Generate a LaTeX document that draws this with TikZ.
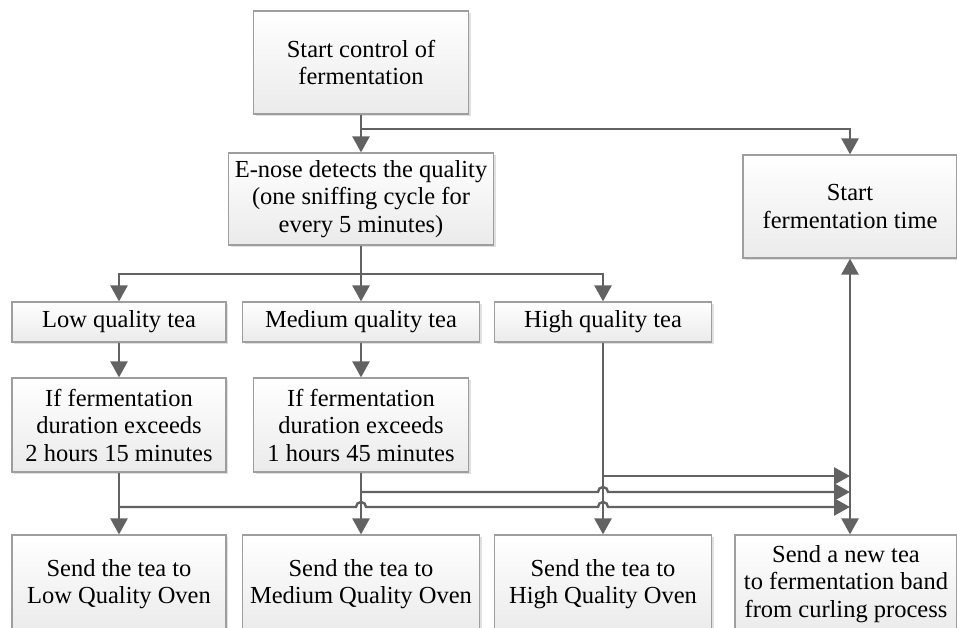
\documentclass[tikz,border=0pt]{standalone}
\usepackage{fontspec}
\setmainfont{Liberation Serif}
\usetikzlibrary{arrows.meta,shadows}
\definecolor{linegray}{RGB}{98,98,98}
\tikzset{
  box/.style={draw=black!38, line width=1.2pt, top color=white, bottom color=black!8,
    align=center, inner sep=2pt, font=\fontsize{24.5}{27.5}\selectfont,
    drop shadow={shadow xshift=2pt, shadow yshift=-2pt, fill=black!20, opacity=0.6}},
  link/.style={line width=2.4pt, draw=linegray},
  arrow/.style={link, -{Triangle[length=16pt,width=17pt]}},
}
\begin{document}
\begin{tikzpicture}[x=1pt,y=1pt]
            \useasboundingbox (0,0) rectangle (957,-628);

            \node[box,minimum width=215pt,minimum height=103pt] (S) at (361,-62.5) {Start control of\\fermentation};
            \node[box,minimum width=265pt,minimum height=92pt] (E) at (361,-199) {E-nose detects the quality\\(one sniffing cycle for\\every 5 minutes)};
            \node[box,minimum width=214pt,minimum height=103pt] (T) at (850,-206.5) {Start\\fermentation time};

            \node[box,minimum width=214pt,minimum height=40pt] (L) at (119,-322) {Low quality tea};
            \node[box,minimum width=237pt,minimum height=40pt] (M) at (361,-322) {Medium quality tea};
            \node[box,minimum width=217pt,minimum height=40pt] (H) at (603,-322) {High quality tea};

            \node[box,minimum width=214pt,minimum height=94pt] (LI) at (119,-425) {If fermentation\\duration exceeds\\2 hours 15 minutes};
            \node[box,minimum width=215pt,minimum height=94pt] (MI) at (361,-425) {If fermentation\\duration exceeds\\1 hours 45 minutes};

            \node[box,minimum width=214pt,minimum height=98pt] (LO) at (119,-584) {Send the tea to\\Low Quality Oven};
            \node[box,minimum width=237pt,minimum height=98pt] (MO) at (361,-584) {Send the tea to\\Medium Quality Oven};
            \node[box,minimum width=217pt,minimum height=98pt] (HO) at (603,-584) {Send the tea to\\High Quality Oven};
            \node[box,minimum width=222pt,minimum height=98pt] (N) at (846,-584) {Send a new tea\\to fermentation band\\from curling process};

            \coordinate (j1) at (361,-129);
            \coordinate (j2) at (361,-274);
            \coordinate (h1) at (603,-476);
            \coordinate (h2) at (361,-492);
            \coordinate (h3) at (119,-507);

            \draw[arrow] (S) to (E);
            \draw[arrow] (j1) -| (T);
            \draw[arrow] (E) to (M);
            \draw[arrow] (j2) -| (L);
            \draw[arrow] (j2) -| (H);
            \draw[arrow] (L) to (LI);
            \draw[arrow] (M) to (MI);
            \draw[arrow] (LI) to (LO);
            \draw[arrow] (MI) to (MO);
            \draw[arrow] (H) to (HO);

            % merging lines hop over the verticals
            \draw[arrow] (h1) -- (h1 -| T);
            \draw[arrow] (h2) -- ++(237,0) arc (180:0:5) -- (h2 -| T);
            \draw[arrow] (h3) -- ++(237,0) arc (180:0:5) -- ++(232,0) arc (180:0:5) -- (h3 -| T);
            \draw[link,{Triangle[length=16pt,width=17pt]}-{Triangle[length=16pt,width=17pt]}] (T) to (T |- N.north);
        \end{tikzpicture}
\end{document}
